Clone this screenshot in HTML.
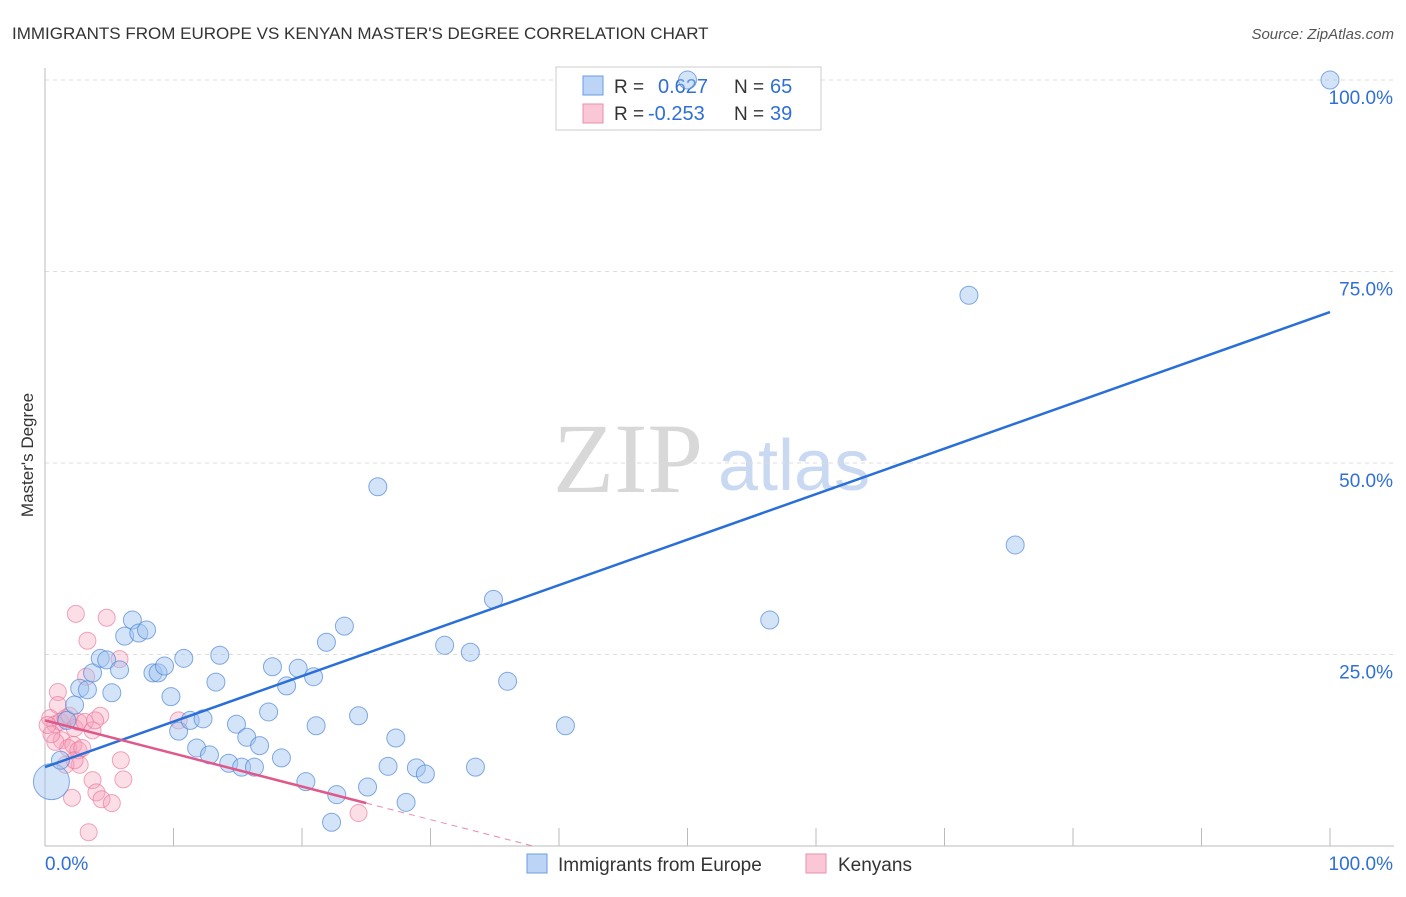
<!DOCTYPE html>
<html><head><meta charset="utf-8"><style>
body{margin:0;background:#fff;font-family:"Liberation Sans",sans-serif}
</style></head><body>
<svg id="chart" width="1406" height="892" xmlns="http://www.w3.org/2000/svg" font-family="Liberation Sans, sans-serif">
<text x="12" y="39" font-size="17" fill="#333">IMMIGRANTS FROM EUROPE VS KENYAN MASTER'S DEGREE CORRELATION CHART</text>
<text x="1394" y="39" font-size="15" fill="#555" font-style="italic" text-anchor="end">Source: ZipAtlas.com</text>
<text transform="translate(33,455) rotate(-90)" font-size="17" fill="#333" text-anchor="middle">Master's Degree</text>
<g>
<text x="553" y="492" font-size="100" fill="#d8d8d8" style="font-family:'Liberation Serif',serif">ZIP</text>
<text x="718" y="490" font-size="72" fill="#c9d9f2">atlas</text>
</g>
<g id="grid"></g><g id="axes"></g>
<g>
<rect x="556" y="67" width="265" height="63" fill="#fff" stroke="#ccc"/>
<rect x="583" y="76" width="20" height="19" fill="#bcd4f5" stroke="#6a9be0"/>
<rect x="583" y="104" width="20" height="19" fill="#f9c7d6" stroke="#ea8fac"/>
<text x="614" y="93" font-size="19" fill="#333">R = </text><text x="658" y="93" font-size="20" fill="#2f6fd6">0.627</text>
<text x="734" y="93" font-size="19" fill="#333">N = </text><text x="770" y="93" font-size="20" fill="#2f6fd6">65</text>
<text x="614" y="120" font-size="19" fill="#333">R = </text><text x="648" y="120" font-size="20" fill="#2f6fd6">-0.253</text>
<text x="734" y="120" font-size="19" fill="#333">N = </text><text x="770" y="120" font-size="20" fill="#2f6fd6">39</text>
</g>
<g id="pts"></g><g id="lines"></g>
<g>
<rect x="527" y="854" width="20" height="19" fill="#bcd4f5" stroke="#6a9be0"/>
<text x="558" y="871" font-size="19" fill="#333">Immigrants from Europe</text>
<rect x="806" y="854" width="20" height="19" fill="#f9c7d6" stroke="#ea8fac"/>
<text x="838" y="871" font-size="19" fill="#333">Kenyans</text>
</g>
</svg>
<script>
const yTicks=[25,50,75,100];
const yTickLabels=["25.0%","50.0%","75.0%","100.0%"];
const xTicks=[0,10,20,30,40,50,60,70,80,90,100];
const blueX=[0.5,1.2,1.7,2.3,2.7,3.3,3.7,4.3,4.8,5.2,5.8,6.2,6.8,7.3,7.9,8.4,8.8,9.3,9.8,10.4,10.8,11.3,11.8,12.3,12.8,13.3,13.6,14.3,14.9,15.3,15.7,16.3,16.7,17.4,17.7,18.4,18.8,19.7,20.3,20.9,21.1,21.9,22.3,22.7,23.3,24.4,25.1,25.9,26.7,27.3,28.1,28.9,29.6,31.1,33.1,33.5,34.9,36.0,40.5,56.4,71.9,75.5,100,50.0];
const blueY=[8.4,11.2,16.4,18.4,20.6,20.4,22.6,24.5,24.3,20.0,23.0,27.4,29.5,27.8,28.2,22.6,22.6,23.5,19.5,15.0,24.5,16.4,12.8,16.6,11.9,21.4,24.9,10.8,15.9,10.3,14.2,10.3,13.1,17.5,23.4,11.5,20.9,23.2,8.4,22.1,15.7,26.6,3.1,6.7,28.7,17.0,7.7,46.9,10.4,14.1,5.7,10.2,9.4,26.2,25.3,10.3,32.2,21.5,15.7,29.5,71.9,39.3,100,100];
const pinkX=[2.4,4.8,3.3,5.8,1.0,3.2,0.4,0.8,1.2,1.6,1.9,2.3,2.6,3.1,4.3,3.7,1.3,1.8,2.2,2.6,2.7,0.8,3.7,4.0,4.4,5.2,5.9,6.1,2.1,3.4,10.4,24.4,0.5,0.2,1.6,2.3,2.9,3.9,1.0];
const pinkY=[30.3,29.8,26.8,24.4,20.1,22.1,16.7,15.9,16.2,16.7,17.0,15.4,16.2,16.2,17.0,15.1,13.8,12.8,13.2,12.5,10.6,13.6,8.6,7.0,6.1,5.6,11.2,8.7,6.3,1.8,16.4,4.3,14.6,15.8,10.6,11.2,12.8,16.4,18.4];
const blueTrend=[10.3,69.7];
const pinkTrend=[16.4,5.6,25];
const X=v=>45+v*12.85, Y=v=>846-v*7.66;
const NS="http://www.w3.org/2000/svg";
function mk(t,a,p){const e=document.createElementNS(NS,t);for(const k in a)e.setAttribute(k,a[k]);p.appendChild(e);return e;}
const grid=document.getElementById('grid'),axes=document.getElementById('axes'),pts=document.getElementById('pts'),lines=document.getElementById('lines');
yTicks.forEach((t,i)=>{
 const l=mk('line',{x1:45,x2:1394,y1:Y(t),y2:Y(t),stroke:'#ddd','stroke-dasharray':'4,4'},grid);
 
 
 const tx=mk('text',{x:1393,y:Y(t)+24,'font-size':19,fill:'#2f6fd6','text-anchor':'end'},axes);tx.textContent=yTickLabels[i];
 
 
});
mk('line',{x1:45,x2:45,y1:68,y2:846,stroke:'#bbb'},axes);
mk('line',{x1:45,x2:1394,y1:846,y2:846,stroke:'#bbb'},axes);
xTicks.forEach(t=>{const l=mk('line',{x1:X(t),x2:X(t),y1:828,y2:846,stroke:'#bbb'},axes);
 
 });
let a=mk('text',{x:45,y:870,'font-size':19,fill:'#2f6fd6'},axes);a.textContent='0.0%';


a=mk('text',{x:1393,y:870,'font-size':19,fill:'#2f6fd6','text-anchor':'end'},axes);a.textContent='100.0%';


pinkX.forEach((v,i)=>{const c=mk('circle',{cx:X(v),cy:Y(pinkY[i]),r:8.5,fill:'rgba(245,160,185,0.35)',stroke:'rgba(232,120,155,0.65)'},pts);
 
 });
blueX.forEach((v,i)=>{const c=mk('circle',{cx:X(v),cy:Y(blueY[i]),r:i==0?18:9,fill:'rgba(160,195,240,0.45)',stroke:'rgba(80,135,215,0.7)'},pts);
 
 });
let ln=mk('line',{x1:X(0),y1:Y(blueTrend[0]),x2:X(100),y2:Y(blueTrend[1]),stroke:'#2a6fd8','stroke-width':2.5},lines);


const slope=(pinkTrend[1]-pinkTrend[0])/pinkTrend[2], x0=-pinkTrend[0]/slope;
ln=mk('line',{x1:X(0),y1:Y(pinkTrend[0]),x2:X(pinkTrend[2]),y2:Y(pinkTrend[1]),stroke:'#e0588a','stroke-width':2.5},lines);


ln=mk('line',{x1:X(pinkTrend[2]),y1:Y(pinkTrend[1]),x2:X(x0),y2:Y(0),stroke:'#e88aa8','stroke-width':1,'stroke-dasharray':'6,5'},lines);


</script>
</body></html>
